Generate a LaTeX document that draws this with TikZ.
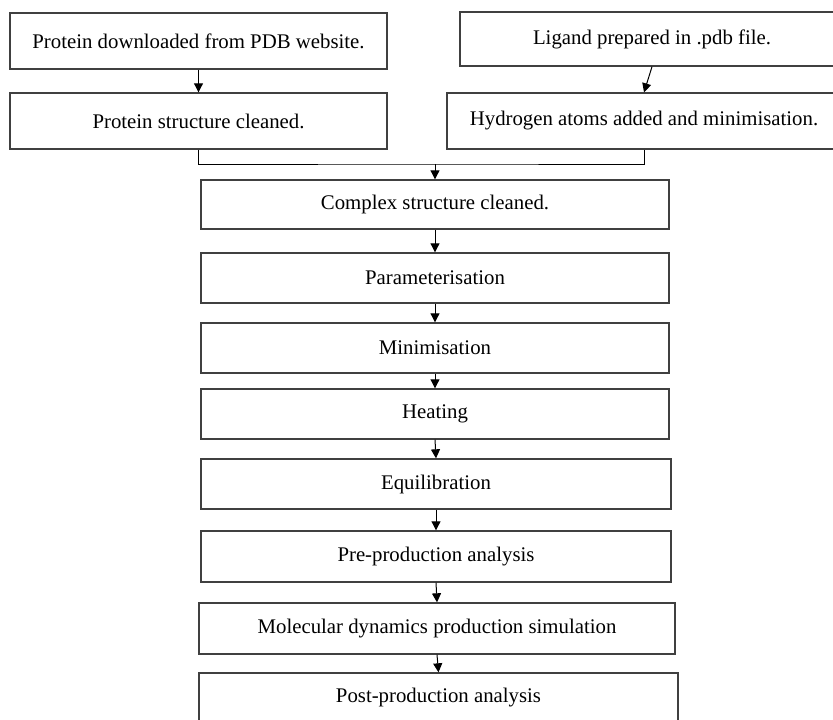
\documentclass[tikz,border=0pt]{standalone}
\usepackage{fontspec}
\setmainfont{Liberation Serif}
\usetikzlibrary{arrows.meta}
\begin{document}
\begin{tikzpicture}[x=0.5pt,y=-0.5pt,every node/.style={font=\fontsize{10.4}{13}\selectfont},stage/.style={draw=black!75,line width=0.7pt,minimum width=234pt,minimum height=25pt,inner sep=0pt},top/.style={stage,minimum height=28pt},arr/.style={-{Triangle[length=4.5pt,width=4.5pt]},line width=0.5pt}]
\useasboundingbox (0,0) rectangle (833,719);
\node[top,minimum width=188.5pt] (prot) at (198.5,41) {Protein downloaded from PDB website.};
\node[top,minimum width=192pt,minimum height=27pt] (lig) at (652,39) {Ligand prepared in .pdb file.};
\node[top,minimum width=188.5pt] (clean) at (198.5,121) {Protein structure cleaned.};
\node[top,minimum width=197pt] (hyd) at (644,121) {Hydrogen atoms added and minimisation.};
\node[stage,minimum height=24.5pt] (cplx) at (435,204.5) {Complex structure cleaned.};
\node[stage] (param) at (435,278) {Parameterisation};
\node[stage] (mini) at (435,348) {Minimisation};
\node[stage] (heat) at (435,414) {Heating};
\node[stage,minimum width=235pt] (equil) at (436,484) {Equilibration};
\node[stage,minimum width=235pt,minimum height=25.5pt] (pre) at (436,556.5) {Pre-production analysis};
\node[stage,minimum width=238pt,minimum height=25.5pt] (md) at (437,628.5) {Molecular dynamics production simulation};
\node[stage,minimum width=239.5pt] (post) at (438.5,698) {Post-production analysis};
\coordinate (join) at (435,164);
\draw[arr] (prot.south) -- (clean.north);
\draw[arr] (lig.south) -- (hyd.north);
\draw[line width=0.5pt] (clean.south) |- (join) -| (hyd.south);
\draw[arr] (join) -- (cplx.north);
\draw[arr] (cplx.south) -- (param.north);
\draw[arr] (param.south) -- (mini.north);
\draw[arr] (mini.south) -- (heat.north);
\draw[arr] (heat.south) -- (equil.north);
\draw[arr] (equil.south) -- (pre.north);
\draw[arr] (pre.south) -- (md.north);
\draw[arr] (md.south) -- (post.north);
\end{tikzpicture}
\end{document}
